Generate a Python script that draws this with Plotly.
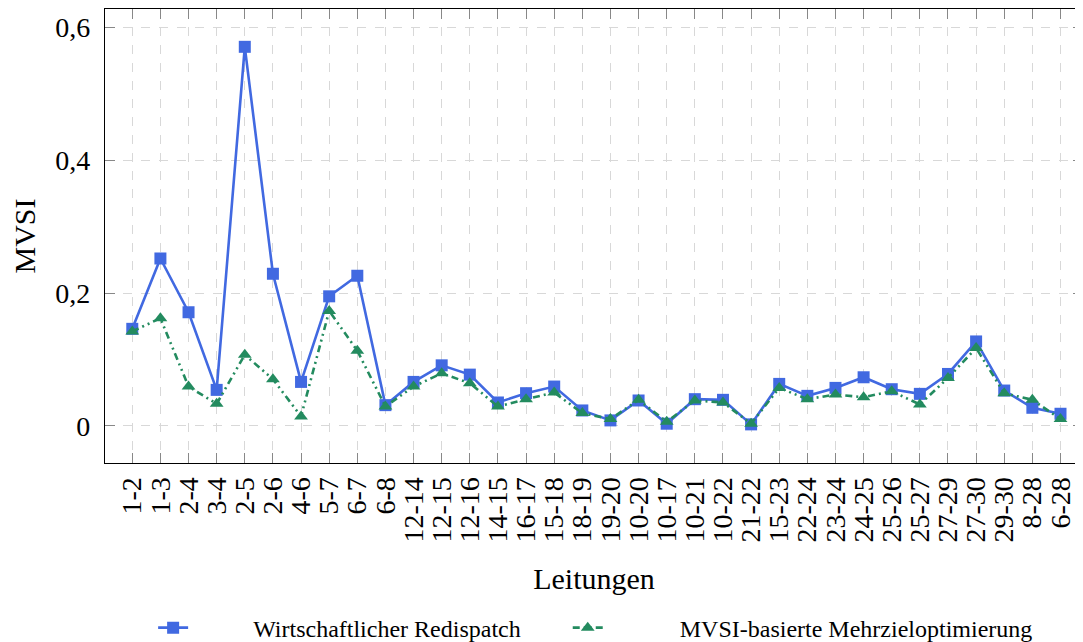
import plotly.graph_objects as go

leitungen = ["1-2", "1-3", "2-4", "3-4", "2-5", "2-6", "4-6", "5-7", "6-7", "6-8",
             "12-14", "12-15", "12-16", "14-15", "16-17", "15-18", "18-19", "19-20",
             "10-20", "10-17", "10-21", "10-22", "21-22", "15-23", "22-24", "23-24",
             "24-25", "25-26", "25-27", "27-29", "27-30", "29-30", "8-28", "6-28"]

wirtschaftlich = [0.146, 0.252, 0.171, 0.054, 0.571, 0.229, 0.066, 0.195, 0.226, 0.031,
                  0.066, 0.091, 0.077, 0.035, 0.049, 0.059, 0.023, 0.008,
                  0.038, 0.003, 0.040, 0.039, 0.002, 0.063, 0.045, 0.057,
                  0.073, 0.055, 0.048, 0.078, 0.127, 0.053, 0.027, 0.018]

mvsi_basiert = [0.142, 0.162, 0.059, 0.033, 0.107, 0.070, 0.014, 0.173, 0.113, 0.029,
                0.059, 0.079, 0.064, 0.029, 0.040, 0.050, 0.019, 0.010,
                0.039, 0.006, 0.038, 0.035, 0.003, 0.057, 0.040, 0.047,
                0.043, 0.052, 0.032, 0.072, 0.117, 0.049, 0.039, 0.010]

y_tickvals = [0, 0.2, 0.4, 0.6]
y_ticktext = ["0", "0,2", "0,4", "0,6"]

series_names = ["Wirtschaftlicher Redispatch", "MVSI-basierte Mehrzieloptimierung"]

BLUE = "#4169E1"
GREEN = "#238B5F"
FONT = "Liberation Serif"
PAD1 = "\u00a0" * 10
TRAIL = "\u00a0" * 7
PAD2 = "\u00a0" * 12

x_idx = list(range(len(leitungen)))

fig = go.Figure()
fig.add_trace(go.Scatter(
    x=x_idx, y=wirtschaftlich, name=PAD1 + series_names[0] + TRAIL,
    mode="lines+markers",
    line=dict(color=BLUE, width=2.6),
    marker=dict(symbol="square", size=12, color=BLUE),
))
fig.add_trace(go.Scatter(
    x=x_idx, y=mvsi_basiert, name=PAD2 + series_names[1],
    mode="lines+markers",
    line=dict(color=GREEN, width=2.6, dash="7px,4px,2px,4px,2px,4px"),
    marker=dict(symbol="triangle-up", size=12, color=GREEN),
))

# The page body adds an 8px offset, so the figure is 8px smaller than the window.
fig.update_layout(
    width=1075, height=634,
    margin=dict(l=97, r=0, t=1, b=179, autoexpand=False),
    plot_bgcolor="white", paper_bgcolor="white",
    separators=",.",
    font=dict(family=FONT, size=28, color="black"),
    showlegend=True,
    legend=dict(
        orientation="h",
        xref="container", yref="container",
        x=0.135, xanchor="left",
        y=0.022, yanchor="middle",
        font=dict(family=FONT, size=24),
        bgcolor="rgba(0,0,0,0)",
    ),
)

fig.update_xaxes(
    range=[-0.97, 33.8],
    automargin=False,
    tickmode="array", tickvals=x_idx, ticktext=leitungen,
    tickangle=-90,
    ticks="inside", ticklen=10, tickcolor="#888888", tickwidth=1,
    ticklabelstandoff=2,
    showline=True, linecolor="black", linewidth=1.2, mirror="allticks",
    showgrid=True, gridcolor="#d8d8d8", griddash="dash", gridwidth=1,
    zeroline=False,
    tickfont=dict(family=FONT, size=28),
    title=dict(text="Leitungen", font=dict(family=FONT, size=30), standoff=26),
)
fig.update_yaxes(
    range=[-0.0562, 0.628],
    automargin=False,
    tickmode="array", tickvals=y_tickvals, ticktext=y_ticktext,
    ticks="inside", ticklen=10, tickcolor="#888888", tickwidth=1,
    ticklabelstandoff=8,
    showline=True, linecolor="black", linewidth=1.2, mirror="allticks",
    showgrid=True, gridcolor="#d8d8d8", griddash="dash", gridwidth=1,
    zeroline=False,
    tickfont=dict(family=FONT, size=28),
    title=dict(text="MVSI", font=dict(family=FONT, size=30), standoff=20),
)

fig.write_html("out.html")
